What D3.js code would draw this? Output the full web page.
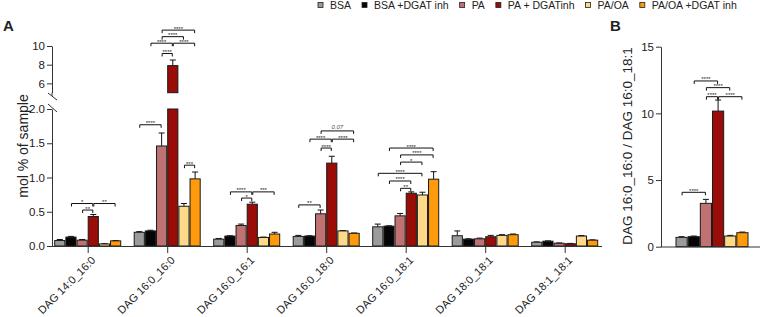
<!DOCTYPE html>
<html><head><meta charset="utf-8">
<script src="https://cdn.jsdelivr.net/npm/d3@7"></script>
<style>
body{margin:0;background:#fff;}
text{font-family:"Liberation Sans",Arial,sans-serif;fill:#222;}
</style></head>
<body><svg id="c" width="761" height="317"></svg>
<script>
// ---------- data ----------
const categories = ["DAG 14:0_16:0","DAG 16:0_16:0","DAG 16:0_16:1","DAG 16:0_18:0","DAG 16:0_18:1","DAG 18:0_18:1","DAG 18:1_18:1"];
const seriesNames = ["BSA","BSA +DGAT inh","PA","PA + DGATinh","PA/OA","PA/OA +DGAT inh"];
const seriesColors = ["#9b9b9b","#050505","#c07272","#990c08","#ffd98a","#ff9a0a"];
const bsa        = [0.08, 0.20, 0.10, 0.14, 0.28, 0.15, 0.055];
const bsaDgat    = [0.13, 0.22, 0.145,0.145,0.29, 0.10, 0.07];
const pa         = [0.085,1.46, 0.30, 0.47, 0.44, 0.105,0.04];
const paDgat     = [0.43, 7.9,  0.61, 1.21, 0.77, 0.135,0.033];
const paoa       = [0.03, 0.58, 0.125,0.22, 0.745,0.155,0.145];
const paoaDgat   = [0.075,0.98, 0.175,0.185,0.975,0.165,0.085];
const bsaErr     = [0.015,0.01, 0.01, 0.015,0.04, 0.07, 0.005];
const bsaDgatErr = [0.01, 0.01, 0.005,0.005,0.005,0.005,0.005];
const paErr      = [0.01, 0.19, 0.02, 0.055,0.035,0.01, 0.005];
const paDgatErr  = [0.03, 0.6,  0.03, 0.1,  0.02, 0.02, 0.005];
const paoaErr    = [0.005,0.04, 0.005,0.005,0.04, 0.01, 0.008];
const paoaDgatErr= [0.005,0.10, 0.025,0.005,0.11, 0.01, 0.005];
const ratioB     = [0.7, 0.75, 3.25, 10.17, 0.8, 1.05];
const ratioBErr  = [0.05,0.05, 0.3,  0.83, 0.05, 0.05];
const yTicksLow  = [0, 0.5, 1.0, 1.5, 2.0];
const yTicksHigh = [6, 8, 10];
const yTicksB    = [0, 5, 10, 15];
// significance: [group, barFrom, barTo, level, label]
const sigA = [
  [0,1,3,0.62,"*"],[0,2,3,0.525,"**"],[0,3,5,0.62,"**"],
  [1,0,2,1.77,"****"],[1,4,5,1.18,"***"],[1,2,5,11.7,"****"],[1,2,4,11.0,"****"],
  [1,1,3,10.3,"****"],[1,3,5,10.3,"****"],[1,2,3,9.2,"****"],
  [2,1,3,0.79,"****"],[2,2,3,0.70,"*"],[2,3,5,0.79,"***"],
  [3,0,2,0.60,"**"],[3,2,3,1.43,"****"],[3,1,3,1.56,"****"],[3,3,5,1.56,"****"],[3,2,5,1.68,"0.07"],
  [4,1,5,1.43,"****"],[4,2,5,1.33,"****"],[4,2,4,1.225,"*"],[4,0,4,1.061,"****"],[4,1,3,0.949,"****"],[4,2,3,0.842,"**"]
];
const sigB = [[1,3,12.43,"****"],[2,4,11.93,"****"],[2,3,11.25,"****"],[3,5,11.25,"****"],[0,2,4.08,"****"]];

const seriesVals = [bsa,bsaDgat,pa,paDgat,paoa,paoaDgat];
const seriesErrs = [bsaErr,bsaDgatErr,paErr,paDgatErr,paoaErr,paoaDgatErr];

// ---------- drawing ----------
const svg = d3.select("#c");
const axisColor = "#333";

const xA = d3.scalePoint().domain(categories).range([87.7,564.7]);
const inA = d3.scaleBand().domain(seriesNames).range([-33,33]).paddingInner(0.09);
const yLo = d3.scaleLinear().domain([0,2]).range([246,109]);
const yHi = d3.scaleLinear().domain([5,10]).range([92.7,46]);
const yA = v => v <= 2 ? yLo(v) : yHi(v);

const gA = svg.append("g");
categories.forEach((cat, ci) => {
  seriesNames.forEach((s, si) => {
    const v = seriesVals[si][ci], e = seriesErrs[si][ci];
    const x0 = xA(cat) + inA(s), bw = inA.bandwidth(), cx = x0 + bw/2;
    const top = yA(v + e);
    gA.append("line").attr("x1",cx).attr("x2",cx).attr("y1",yA(v)).attr("y2",top).attr("stroke","#111").attr("stroke-width",1);
    gA.append("line").attr("x1",cx-3).attr("x2",cx+3).attr("y1",top).attr("y2",top).attr("stroke","#111").attr("stroke-width",1);
    if (v <= 2) {
      gA.append("rect").attr("x",x0).attr("width",bw).attr("y",yLo(v)).attr("height",yLo(0)-yLo(v))
        .attr("fill",seriesColors[si]).attr("stroke","#1a1a1a").attr("stroke-width",1);
    } else {
      gA.append("rect").attr("x",x0).attr("width",bw).attr("y",yLo(2)).attr("height",yLo(0)-yLo(2))
        .attr("fill",seriesColors[si]).attr("stroke","#1a1a1a").attr("stroke-width",1);
      gA.append("rect").attr("x",x0).attr("width",bw).attr("y",yHi(v)).attr("height",yHi(5)-yHi(v))
        .attr("fill",seriesColors[si]).attr("stroke","#1a1a1a").attr("stroke-width",1);
    }
  });
});

function bracket(g, x1, x2, y, label){
  g.append("path").attr("d",`M${x1},${y+3}V${y}H${x2}V${y+3}`).attr("fill","none").attr("stroke","#111").attr("stroke-width",1);
  const isP = !label.startsWith("*");
  g.append("text").attr("x",(x1+x2)/2).attr("y", isP ? y-2 : y+0.5).attr("text-anchor","middle")
    .attr("font-size", 6).style("fill", isP ? "#555" : "#222")
    .attr("font-style", isP ? "italic" : null).text(label);
}
sigA.forEach(([gi,a,b,lv,lab]) => {
  const cat = categories[gi];
  const x1 = xA(cat)+inA(seriesNames[a])+inA.bandwidth()/2+0.5;
  const x2 = xA(cat)+inA(seriesNames[b])+inA.bandwidth()/2-0.5;
  bracket(gA, x1, x2, yA(lv), lab);
});

const axLo = gA.append("g").attr("transform","translate(52,0)")
  .call(d3.axisLeft(yLo).tickValues(yTicksLow).tickFormat(d3.format(".1f")).tickSize(5).tickSizeOuter(0));
const axHi = gA.append("g").attr("transform","translate(52,0)")
  .call(d3.axisLeft(yHi).tickValues(yTicksHigh).tickFormat(d3.format("d")).tickSize(5).tickSizeOuter(0));
[axLo,axHi].forEach(a=>{
  a.select(".domain").attr("stroke",axisColor);
  a.selectAll(".tick line").attr("stroke",axisColor);
  a.selectAll(".tick text").attr("font-size",11.5).attr("font-family","Liberation Sans, Arial").style("fill","#222").attr("x",-7);
});
gA.append("line").attr("x1",48).attr("y1",93).attr("x2",57).attr("y2",100).attr("stroke",axisColor);
gA.append("line").attr("x1",48).attr("y1",104).attr("x2",57).attr("y2",112).attr("stroke",axisColor);
gA.append("line").attr("x1",52).attr("x2",52).attr("y1",92.7).attr("y2",96).attr("stroke",axisColor);

gA.append("line").attr("x1",52).attr("x2",602).attr("y1",246.5).attr("y2",246.5).attr("stroke",axisColor);
const axX = gA.append("g").attr("transform","translate(0,246)").call(d3.axisBottom(xA).tickSize(7).tickSizeOuter(0));
axX.select(".domain").remove();
axX.selectAll(".tick line").attr("stroke",axisColor);
axX.selectAll(".tick text").attr("font-size",11).attr("font-family","Liberation Sans, Arial").style("fill","#222")
  .attr("text-anchor","end").attr("y",0).attr("dy",0)
  .attr("transform","translate(8,15) rotate(-45)");

svg.append("text").attr("transform","translate(28,146) rotate(-90)").attr("text-anchor","middle")
  .attr("font-size",14).text("mol % of sample");
svg.append("text").attr("x",3).attr("y",31).attr("font-size",15).attr("font-weight","bold").text("A");

const gB = svg.append("g");
const xB = d3.scaleBand().domain(seriesNames).range([676,748]).paddingInner(0.08);
const yB = d3.scaleLinear().domain([0,15]).range([246.7,46.7]);
seriesNames.forEach((s,si)=>{
  const v = ratioB[si], e = ratioBErr[si], x0 = xB(s), bw = xB.bandwidth(), cx = x0+bw/2;
  gB.append("line").attr("x1",cx).attr("x2",cx).attr("y1",yB(v)).attr("y2",yB(v+e)).attr("stroke","#111");
  gB.append("line").attr("x1",cx-3).attr("x2",cx+3).attr("y1",yB(v+e)).attr("y2",yB(v+e)).attr("stroke","#111");
  gB.append("rect").attr("x",x0).attr("width",bw).attr("y",yB(v)).attr("height",yB(0)-yB(v))
    .attr("fill",seriesColors[si]).attr("stroke","#1a1a1a").attr("stroke-width",1);
});
sigB.forEach(([a,b,lv,lab])=>{
  bracket(gB, xB(seriesNames[a])+xB.bandwidth()/2+0.5, xB(seriesNames[b])+xB.bandwidth()/2-0.5, yB(lv), lab);
});
const axB = gB.append("g").attr("transform","translate(661,0)")
  .call(d3.axisLeft(yB).tickValues(yTicksB).tickSize(5).tickSizeOuter(0));
axB.select(".domain").attr("stroke",axisColor);
axB.selectAll(".tick line").attr("stroke",axisColor);
axB.selectAll(".tick text").attr("font-size",11.5).attr("font-family","Liberation Sans, Arial").style("fill","#222").attr("x",-7);
gB.append("line").attr("x1",661).attr("x2",760).attr("y1",247).attr("y2",247).attr("stroke",axisColor);
svg.append("text").attr("transform","translate(632,146) rotate(-90)").attr("text-anchor","middle")
  .attr("font-size",13.5).text("DAG 16:0_16:0 / DAG 16:0_18:1");
svg.append("text").attr("x",610).attr("y",31).attr("font-size",15).attr("font-weight","bold").text("B");

const lg = svg.append("g");
let lx = 318;
seriesNames.forEach((s,si)=>{
  lg.append("rect").attr("x",lx).attr("y",2.5).attr("width",5).attr("height",5)
    .attr("fill",seriesColors[si]).attr("stroke","#222").attr("stroke-width",0.8);
  const t = lg.append("text").attr("x",lx+12).attr("y",9).attr("font-size",10.5).text(s);
  lx += 12 + t.node().getComputedTextLength() + 11;
});
</script></body></html>
